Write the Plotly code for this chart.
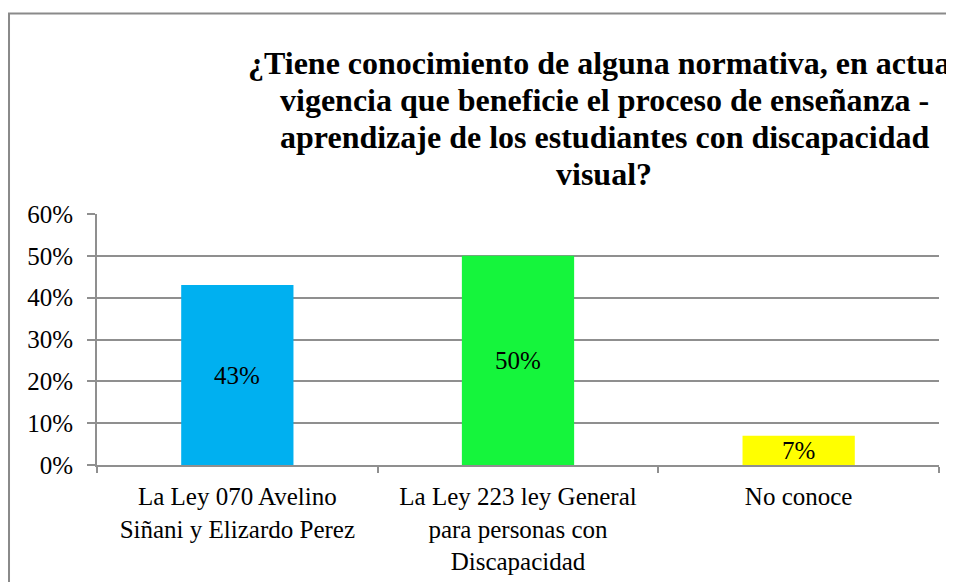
import plotly.graph_objects as go

categories = [
    "La Ley 070 Avelino<br>Siñani y Elizardo Perez",
    "La Ley 223 ley General<br>para personas con<br>Discapacidad",
    "No conoce",
]
values = [0.43, 0.50, 0.07]
bar_colors = ["#00B0F0", "#15F53C", "#FFFF00"]
title_lines = [
    "¿Tiene conocimiento de alguna normativa, en actual",
    "vigencia que beneficie el proceso de enseñanza -",
    "aprendizaje de los estudiantes con discapacidad",
    "visual?",
]
y_ticks = [0, 0.1, 0.2, 0.3, 0.4, 0.5, 0.6]

FONT = "Liberation Serif"
GRID = "#8f8f8f"

fig = go.Figure()
fig.add_trace(go.Bar(
    x=categories, y=values, marker=dict(color=bar_colors, line=dict(width=0)),
    width=0.4, textposition="none", hoverinfo="skip",
))

# data labels
for c, v in zip(categories, values):
    fig.add_annotation(x=c, y=v / 2, text=f"{v:.0%}", showarrow=False,
                       font=dict(family=FONT, size=25, color="black"),
                       xanchor="center", yanchor="middle")

# title lines
title_y = [1.6016, 1.4542, 1.3068, 1.1594]
for t, yy in zip(title_lines, title_y):
    fig.add_annotation(xref="paper", yref="paper", x=0.6025, y=yy, text=f"<b>{t}</b>",
                       showarrow=False, xanchor="center", yanchor="middle",
                       font=dict(family=FONT, size=32, color="black"))

# outer chart frame (left and top edges visible)
fig.add_shape(type="path", xref="paper", yref="paper",
              path="M -0.1045,-1 L -0.1045,1.7988 L 1.2,1.7988",
              line=dict(color="#8a8a8a", width=2))

fig.update_layout(
    width=946, height=574,
    margin=dict(l=89, r=15, t=206, b=117),
    paper_bgcolor="white", plot_bgcolor="white",
    showlegend=False,
    font=dict(family=FONT, size=25, color="black"),
    bargap=0.6,
)
fig.update_xaxes(
    type="category", tickson="boundaries", ticks="outside", ticklen=6,
    tickcolor=GRID, tickwidth=2, showline=True, linecolor=GRID, linewidth=2,
    showgrid=False, tickfont=dict(family=FONT, size=25, color="black"),
    ticklabelstandoff=8, automargin=False,
)
fig.update_yaxes(
    range=[0, 0.6], tickvals=y_ticks, tickformat=".0%", ticks="outside", ticklen=8,
    tickcolor=GRID, tickwidth=2, showline=True, linecolor=GRID, linewidth=2,
    showgrid=True, gridcolor=GRID, gridwidth=2, zeroline=False,
    tickfont=dict(family=FONT, size=25, color="black"), ticklabelstandoff=9,
    automargin=False,
)

fig.write_html("out.html")
